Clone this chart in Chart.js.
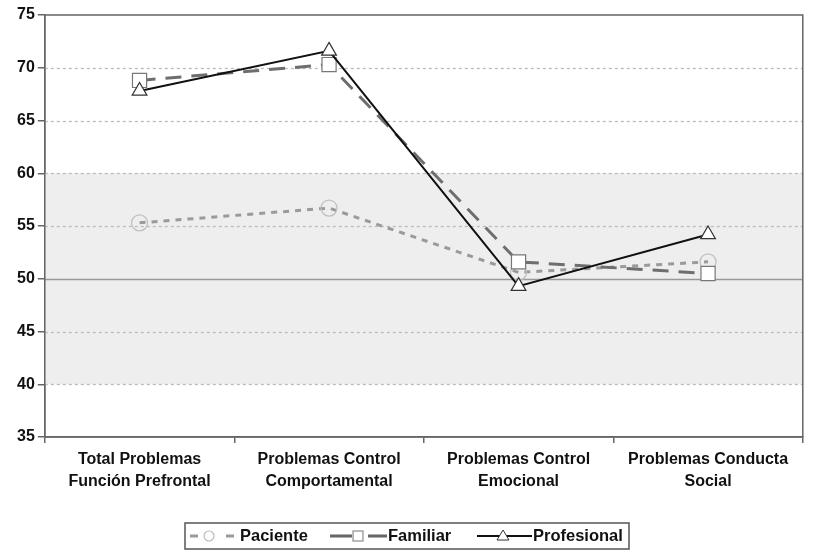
<!DOCTYPE html>
<html>
<head>
<meta charset="utf-8">
<script src="https://cdn.jsdelivr.net/npm/chart.js@4"></script>
<style>
  html, body { margin: 0; padding: 0; background: #fff; }
  #wrap { width: 814px; height: 552px; position: relative; }
</style>
</head>
<body>
<div id="wrap"><canvas id="chart"></canvas></div>
<script>
// Data
const categories = [
    ['Total Problemas', 'Función Prefrontal'],
    ['Problemas Control', 'Comportamental'],
    ['Problemas Control', 'Emocional'],
    ['Problemas Conducta', 'Social']
];
const paciente = [55.3, 56.7, 50.6, 51.6];
const familiar = [68.8, 70.3, 51.6, 50.5];
const profesional = [67.8, 71.6, 49.3, 54.2];
const yTicks = [35, 40, 45, 50, 55, 60, 65, 70, 75];
const bandRange = [40, 60];
const refLine = 50;

const FONT = '"Liberation Sans", Arial, sans-serif';

// grey band, dotted grid and outer border, all behind the lines
const backPlugin = {
    id: 'back',
    beforeDatasetsDraw(chart) {
        const { ctx, chartArea, scales } = chart;
        const { left, right, top, bottom } = chartArea;
        const y1 = scales.y.getPixelForValue(bandRange[1]);
        const y0 = scales.y.getPixelForValue(bandRange[0]);
        ctx.save();
        ctx.fillStyle = '#eeeeee';
        ctx.fillRect(left, y1, right - left, y0 - y1);

        yTicks.forEach(v => {
            if (v === yTicks[0] || v === yTicks[yTicks.length - 1]) return;
            const y = Math.round(scales.y.getPixelForValue(v)) + 0.5;
            ctx.beginPath();
            if (v === refLine) {
                ctx.setLineDash([]);
                ctx.strokeStyle = '#999';
                ctx.lineWidth = 1.5;
            } else {
                ctx.setLineDash([3, 3]);
                ctx.strokeStyle = '#bbb';
                ctx.lineWidth = 1.3;
            }
            ctx.moveTo(left, y);
            ctx.lineTo(right, y);
            ctx.stroke();
        });
        ctx.setLineDash([]);
        ctx.strokeStyle = '#666';
        ctx.lineWidth = 1.5;
        ctx.strokeRect(left, top, right - left, bottom - top);
        ctx.restore();
    }
};

// legend in a box, drawn by hand so that each entry shows line + marker
const legendPlugin = {
    id: 'boxLegend',
    afterDraw(chart) {
        const { ctx } = chart;
        const top = 523, h = 26, left = 185, right = 629;
        const cy = top + h / 2;
        ctx.save();
        ctx.strokeStyle = '#555';
        ctx.lineWidth = 1.5;
        ctx.strokeRect(left, top, right - left, h);
        ctx.font = 'bold 16.5px ' + FONT;
        ctx.textBaseline = 'middle';

        // Paciente
        ctx.strokeStyle = '#999';
        ctx.lineWidth = 3;
        ctx.beginPath();
        ctx.moveTo(190, cy); ctx.lineTo(198, cy);
        ctx.moveTo(226, cy); ctx.lineTo(234, cy);
        ctx.stroke();
        ctx.strokeStyle = '#bbb'; ctx.lineWidth = 1.2;
        ctx.beginPath(); ctx.arc(209, cy, 5, 0, Math.PI * 2); ctx.stroke();
        ctx.fillStyle = '#111';
        ctx.fillText('Paciente', 240, cy);

        // Familiar
        ctx.strokeStyle = '#666';
        ctx.lineWidth = 3;
        ctx.beginPath(); ctx.moveTo(330, cy); ctx.lineTo(352, cy); ctx.moveTo(368, cy); ctx.lineTo(387, cy); ctx.stroke();
        ctx.fillStyle = '#fff';
        ctx.fillRect(353, cy - 5, 10, 10);
        ctx.strokeStyle = '#777'; ctx.lineWidth = 1;
        ctx.strokeRect(353, cy - 5, 10, 10);
        ctx.fillStyle = '#111';
        ctx.fillText('Familiar', 388, cy);

        // Profesional
        ctx.strokeStyle = '#111';
        ctx.lineWidth = 2;
        ctx.beginPath(); ctx.moveTo(477, cy); ctx.lineTo(532, cy); ctx.stroke();
        ctx.fillStyle = '#fff';
        ctx.beginPath();
        ctx.moveTo(503, cy - 6); ctx.lineTo(509, cy + 4); ctx.lineTo(497, cy + 4); ctx.closePath();
        ctx.fill();
        ctx.strokeStyle = '#333'; ctx.lineWidth = 1;
        ctx.stroke();
        ctx.fillStyle = '#111';
        ctx.fillText('Profesional', 533, cy);
        ctx.restore();
    }
};

new Chart(document.getElementById('chart'), {
    type: 'line',
    data: {
        labels: categories,
        datasets: [{
            label: 'Paciente',
            data: paciente,
            order: 2,
            borderColor: '#9a9a9a',
            borderWidth: 3,
            borderDash: [6, 6],
            pointStyle: 'circle',
            pointRadius: 8,
            pointBorderWidth: 1.3,
            pointBorderColor: '#c0c0c0',
            pointBackgroundColor: 'rgba(255,255,255,0)',
            tension: 0
        }, {
            label: 'Familiar',
            data: familiar,
            order: 1,
            borderColor: '#6e6e6e',
            borderWidth: 3,
            borderDash: [16, 10],
            pointStyle: 'rect',
            pointRadius: 10,
            pointBorderWidth: 1.2,
            pointBorderColor: '#777',
            pointBackgroundColor: '#fff',
            tension: 0
        }, {
            label: 'Profesional',
            data: profesional,
            order: 0,
            borderColor: '#111',
            borderWidth: 2,
            pointStyle: 'triangle',
            pointRadius: 8.5,
            pointBorderWidth: 1.2,
            pointBorderColor: '#333',
            pointBackgroundColor: '#fff',
            tension: 0
        }]
    },
    options: {
        responsive: true,
        maintainAspectRatio: false,
        animation: false,
        layout: { padding: { top: 15, right: 0, bottom: 53, left: 14 } },
        plugins: {
            legend: { display: false },
            tooltip: { enabled: false }
        },
        scales: {
            x: {
                offset: true,
                border: { display: true, color: '#666', width: 1.5 },
                grid: {
                    offset: true,
                    drawOnChartArea: false,
                    drawTicks: true,
                    tickLength: 6,
                    color: '#666',
                    lineWidth: 1.5
                },
                ticks: {
                    color: '#111',
                    padding: 6,
                    maxRotation: 0,
                    autoSkip: false,
                    font: { family: FONT, size: 16, weight: 'bold', lineHeight: 1.375 }
                }
            },
            y: {
                min: 35,
                max: 75,
                afterBuildTicks(scale) {
                    scale.ticks = yTicks.map(v => ({ value: v }));
                },
                border: { display: true, color: '#666', width: 1.5 },
                grid: {
                    drawOnChartArea: false,
                    drawTicks: true,
                    tickLength: 7,
                    color: '#666',
                    lineWidth: 1.5
                },
                ticks: {
                    color: '#111',
                    padding: 3,
                    font: { family: FONT, size: 16, weight: 'bold' }
                }
            }
        }
    },
    plugins: [backPlugin, legendPlugin]
});
</script>
</body>
</html>
